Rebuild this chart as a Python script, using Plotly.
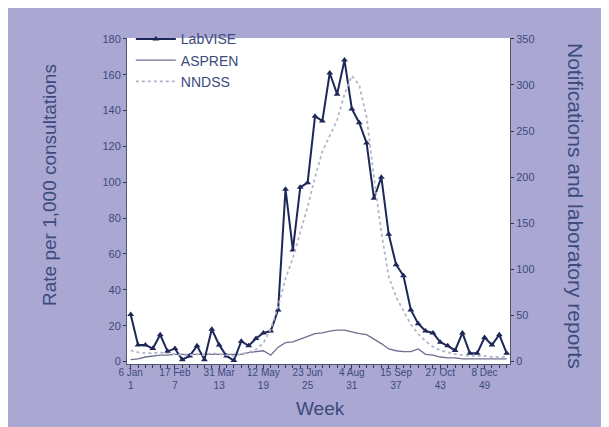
import plotly.graph_objects as go

weeks = list(range(1, 53))
tick_weeks = [1, 7, 13, 19, 25, 31, 37, 43, 49]
tick_dates = ["6 Jan", "17 Feb", "31 Mar", "12 May", "23 Jun", "4 Aug", "15 Sep", "27 Oct", "8 Dec"]

# LabVISE laboratory reports (right axis)
labvise = [51, 18, 18, 14, 29, 11, 14, 2, 6, 17, 2, 35, 18, 6, 1, 22, 17, 25, 31, 33,
           56, 187, 121, 189, 194, 266, 261, 313, 290, 327, 274, 259, 237, 177, 200, 138,
           105, 93, 56, 41, 33, 31, 21, 17, 12, 31, 9, 9, 26, 18, 29, 9]
# ASPREN rate per 1,000 consultations (left axis)
aspren = [1, 1.5, 2.5, 3, 3.5, 3.5, 4, 4, 4, 4, 4, 4, 4, 4, 4, 4, 5, 5.5, 6, 3.5,
          8, 10.5, 11, 12.5, 14, 15.5, 16, 17, 17.5, 17.5, 16.5, 15.5, 15, 12.5, 10, 7,
          6, 5.5, 5.5, 7, 4, 3.5, 2.5, 2, 2, 1.5, 1.5, 1.5, 1.5, 1.5, 1.5, 1.5]
# NNDSS notifications (right axis)
nndss = [12, 10, 9, 9, 10, 8, 8, 7, 7, 8, 7, 9, 8, 7, 6, 8, 10, 13, 20, 35,
         60, 90, 112, 140, 168, 200, 228, 245, 262, 290, 310, 300, 265, 200, 140, 92,
         70, 55, 40, 30, 22, 16, 12, 10, 8, 7, 6, 6, 6, 5, 5, 5]

text_col = "#3c4a7e"
bg = "#aaa8d2"
font = "Liberation Sans, Arial, sans-serif"
W, H = 609, 427

fig = go.Figure()
fig.add_trace(go.Scatter(x=weeks, y=labvise, name="LabVISE", yaxis="y2", mode="lines+markers",
                         line=dict(color="#1e2858", width=2),
                         marker=dict(symbol="triangle-up", size=6, color="#1e2858")))
fig.add_trace(go.Scatter(x=weeks, y=aspren, name="ASPREN", yaxis="y", mode="lines",
                         line=dict(color="#6c7090", width=1.3)))
fig.add_trace(go.Scatter(x=weeks, y=nndss, name="NNDSS", yaxis="y2", mode="lines",
                         line=dict(color="#b4b4cc", width=1.8, dash="dot")))

fig.update_layout(
    width=W, height=H,
    margin=dict(l=119, r=107, t=30, b=71),
    paper_bgcolor=bg, plot_bgcolor="white",
    font=dict(family=font, color=text_col, size=11),
    showlegend=True,
    legend=dict(x=0.01, y=1.045, xanchor="left", yanchor="top", bgcolor="rgba(0,0,0,0)",
                font=dict(size=14, color=text_col), tracegroupgap=0, itemwidth=40),
    xaxis=dict(range=[0.5, 52.45], tickvals=tick_weeks,
               ticktext=[f"{d}<br>{w}" for d, w in zip(tick_dates, tick_weeks)],
               ticks="outside", ticklen=4, tickcolor="#333355", showline=True,
               linecolor="#555570", linewidth=1, showgrid=False, zeroline=False,
               ticklabelstandoff=-5,
               minor=dict(dtick=1, tick0=1, ticks="outside", ticklen=3, tickcolor="#333355"),
               tickfont=dict(size=10, color=text_col)),
    yaxis=dict(range=[-1.4, 180.5], tickvals=list(range(0, 181, 20)), ticks="outside",
               ticklen=3, tickcolor="#333355", showline=True, linecolor="#555570",
               showgrid=False, zeroline=False, tickfont=dict(size=11, color=text_col)),
    yaxis2=dict(range=[-1.4 * 350 / 180, 180.5 * 350 / 180], tickvals=list(range(0, 351, 50)),
                overlaying="y", side="right", ticks="outside", ticklen=3, tickcolor="#333355",
                showline=True, linecolor="#555570", showgrid=False, zeroline=False,
                tickfont=dict(size=11, color=text_col)),
    annotations=[
        dict(text="Rate per 1,000 consultations", xref="paper", yref="paper",
             x=(42 - 119) / (W - 119 - 107), y=(H - 71 - 177) / (H - 30 - 71),
             xanchor="center", yanchor="middle", textangle=-90, showarrow=False,
             font=dict(size=19, color=text_col)),
        dict(text="Notifications and laboratory reports", xref="paper", yref="paper",
             x=(568 - 119) / (W - 119 - 107), y=(H - 71 - 198) / (H - 30 - 71),
             xanchor="center", yanchor="middle", textangle=90, showarrow=False,
             font=dict(size=21, color=text_col)),
        dict(text="Week", xref="paper", yref="paper",
             x=(312 - 119) / (W - 119 - 107), y=(H - 71 - 400) / (H - 30 - 71),
             xanchor="center", yanchor="middle", showarrow=False,
             font=dict(size=19, color=text_col)),
    ],
)

fig.write_html("out.html")
